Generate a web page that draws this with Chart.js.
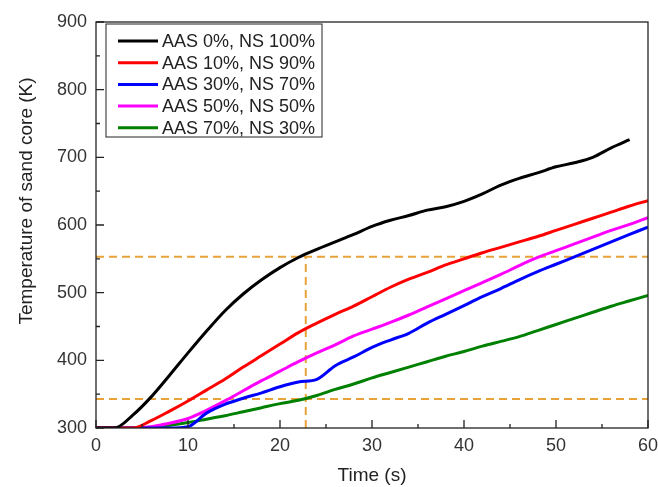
<!DOCTYPE html>
<html>
<head>
<meta charset="utf-8">
<script src="https://cdn.jsdelivr.net/npm/chart.js@4"></script>
<style>
  body { margin: 0; background: #fff; }
</style>
</head>
<body>
<canvas id="tempChart" width="658" height="487"></canvas>
<script>
// DATA
const times = [0, 2, 4, 6, 8, 10, 12, 14, 16, 18, 20, 22, 24, 26, 28, 30,
  32, 34, 36, 38, 40, 42, 44, 46, 48, 50, 52, 54, 56, 58, 60];
const aas0 = [300, 300, 319, 346, 378, 411, 443, 473, 498, 519, 537, 552, 564, 575, 586, 598,
  607, 614, 622, 627, 635, 646, 659, 669, 677, 686, 692, 700, 714, 726, null];
const aas10 = [300, 300, 300, 311, 325, 340, 356, 372, 390, 407, 424, 441, 455, 468, 480, 494,
  508, 520, 530, 541, 550, 559, 567, 575, 583, 592, 601, 610, 619, 628, 636];
const aas30 = [300, 300, 300, 300, 300, 302, 322, 335, 344, 352, 361, 368, 372, 392, 405, 419,
  430, 440, 455, 468, 481, 494, 506, 519, 531, 542, 553, 564, 575, 586, 597];
const aas50 = [300, 300, 300, 302, 307, 314, 326, 340, 355, 370, 384, 398, 411, 423, 436, 446,
  456, 467, 479, 491, 503, 515, 527, 540, 552, 562, 572, 582, 592, 601, 611];
const aas70 = [300, 300, 300, 301, 304, 308, 313, 318, 324, 330, 336, 341, 348, 357, 365, 374,
  382, 390, 398, 406, 413, 421, 428, 435, 444, 453, 462, 471, 480, 488, 496];

const seriesLabels = ["AAS 0%, NS 100%", "AAS 10%, NS 90%", "AAS 30%, NS 70%", "AAS 50%, NS 50%", "AAS 70%, NS 30%"];
const seriesColors = ["#000000", "#ff0000", "#0000ff", "#ff00ff", "#008000"];

// GUIDE LINES
const guideTime = 22.8;
const guideHigh = 553;
const guideLow = 343;

const seriesData = [aas0, aas10, aas30, aas50, aas70];
const guideColor = "#e8a23a";
const FONT = "'Liberation Sans', Arial, sans-serif";
const yTitle = "Temperature of sand core (K)";

function toPoints(values) {
  return times.map((t, i) => ({ x: t, y: values[i] }));
}

const datasets = seriesData.map((vals, i) => ({
  label: seriesLabels[i],
  data: toPoints(vals),
  borderColor: seriesColors[i],
  borderWidth: 3,
  pointRadius: 0,
  cubicInterpolationMode: "monotone",
  spanGaps: false,
  order: 1,
}));

// dashed guides
[
  [{ x: 0, y: guideHigh }, { x: 60, y: guideHigh }],
  [{ x: 0, y: guideLow }, { x: 60, y: guideLow }],
  [{ x: guideTime, y: 300 }, { x: guideTime, y: guideHigh }],
].forEach((pts) => {
  datasets.push({
    data: pts,
    borderColor: guideColor,
    borderWidth: 2,
    borderDash: [8, 5],
    pointRadius: 0,
    order: 2,
  });
});

// INWARD TICKS + FRAME + Y TITLE
const framePlugin = {
  id: "frame",
  afterDraw(chart) {
    const { ctx, chartArea: a, scales } = chart;
    ctx.save();
    ctx.strokeStyle = "#222";
    ctx.lineWidth = 1.3;
    ctx.strokeRect(a.left, a.top, a.right - a.left, a.bottom - a.top);
    ctx.beginPath();
    for (let t = 0; t <= 60; t += 5) {
      const px = scales.x.getPixelForValue(t);
      const len = t % 10 === 0 ? 8 : 4;
      ctx.moveTo(px, a.bottom);
      ctx.lineTo(px, a.bottom - len);
    }
    for (let v = 300; v <= 900; v += 50) {
      const py = scales.y.getPixelForValue(v);
      const len = v % 100 === 0 ? 8 : 4;
      ctx.moveTo(a.left, py);
      ctx.lineTo(a.left + len, py);
    }
    ctx.stroke();

    // y axis title sits a bit above the axis middle in the original
    ctx.translate(27, 201);
    ctx.rotate(-Math.PI / 2);
    ctx.font = "19px " + FONT;
    ctx.fillStyle = "#222";
    ctx.textAlign = "center";
    ctx.textBaseline = "middle";
    ctx.fillText(yTitle, 0, 0);
    ctx.restore();
  },
};

// LEGEND BOX INSIDE PLOT
const legendPlugin = {
  id: "boxLegend",
  afterDraw(chart) {
    const { ctx, chartArea: a } = chart;
    const x0 = a.left + 10;
    const y0 = a.top + 2;
    ctx.save();
    ctx.fillStyle = "#fff";
    ctx.fillRect(x0, y0, 216, 113);
    ctx.strokeStyle = "#222";
    ctx.lineWidth = 1;
    ctx.strokeRect(x0, y0, 216, 113);
    ctx.font = "18px " + FONT;
    ctx.textBaseline = "middle";
    seriesLabels.forEach((lab, i) => {
      const y = y0 + 17 + i * 21.7;
      ctx.strokeStyle = seriesColors[i];
      ctx.lineWidth = 3;
      ctx.beginPath();
      ctx.moveTo(x0 + 12, y);
      ctx.lineTo(x0 + 52, y);
      ctx.stroke();
      ctx.fillStyle = "#222";
      ctx.fillText(lab, x0 + 56, y + 1);
    });
    ctx.restore();
  },
};

const ctx = document.getElementById("tempChart");
let tempChart = new Chart(ctx, {
  type: "line",
  data: { datasets: datasets },
  options: {
    responsive: false,
    animation: false,
    layout: { padding: { left: 0, right: 10, top: 22, bottom: 0 } },
    plugins: {
      legend: { display: false },
      tooltip: { enabled: false },
    },
    scales: {
      x: {
        type: "linear",
        min: 0,
        max: 60,
        ticks: {
          stepSize: 10,
          padding: 7,
          color: "#333",
          font: { size: 18, family: FONT },
        },
        grid: { display: false, drawTicks: false },
        border: { display: false },
        title: {
          display: true,
          text: "Time (s)",
          color: "#222",
          font: { size: 19, family: FONT },
          padding: { top: 0, bottom: 0 },
        },
        afterFit: (s) => {
          s.height = 59;
          s.paddingLeft = 0;
          s.paddingRight = 0;
        },
      },
      y: {
        type: "linear",
        min: 300,
        max: 900,
        ticks: {
          stepSize: 100,
          padding: 9,
          color: "#333",
          font: { size: 18, family: FONT },
        },
        grid: { display: false, drawTicks: false },
        border: { display: false },
        afterFit: (s) => {
          s.width = 96;
          s.paddingTop = 0;
          s.paddingBottom = 0;
        },
      },
    },
  },
  plugins: [framePlugin, legendPlugin],
});
</script>
</body>
</html>
